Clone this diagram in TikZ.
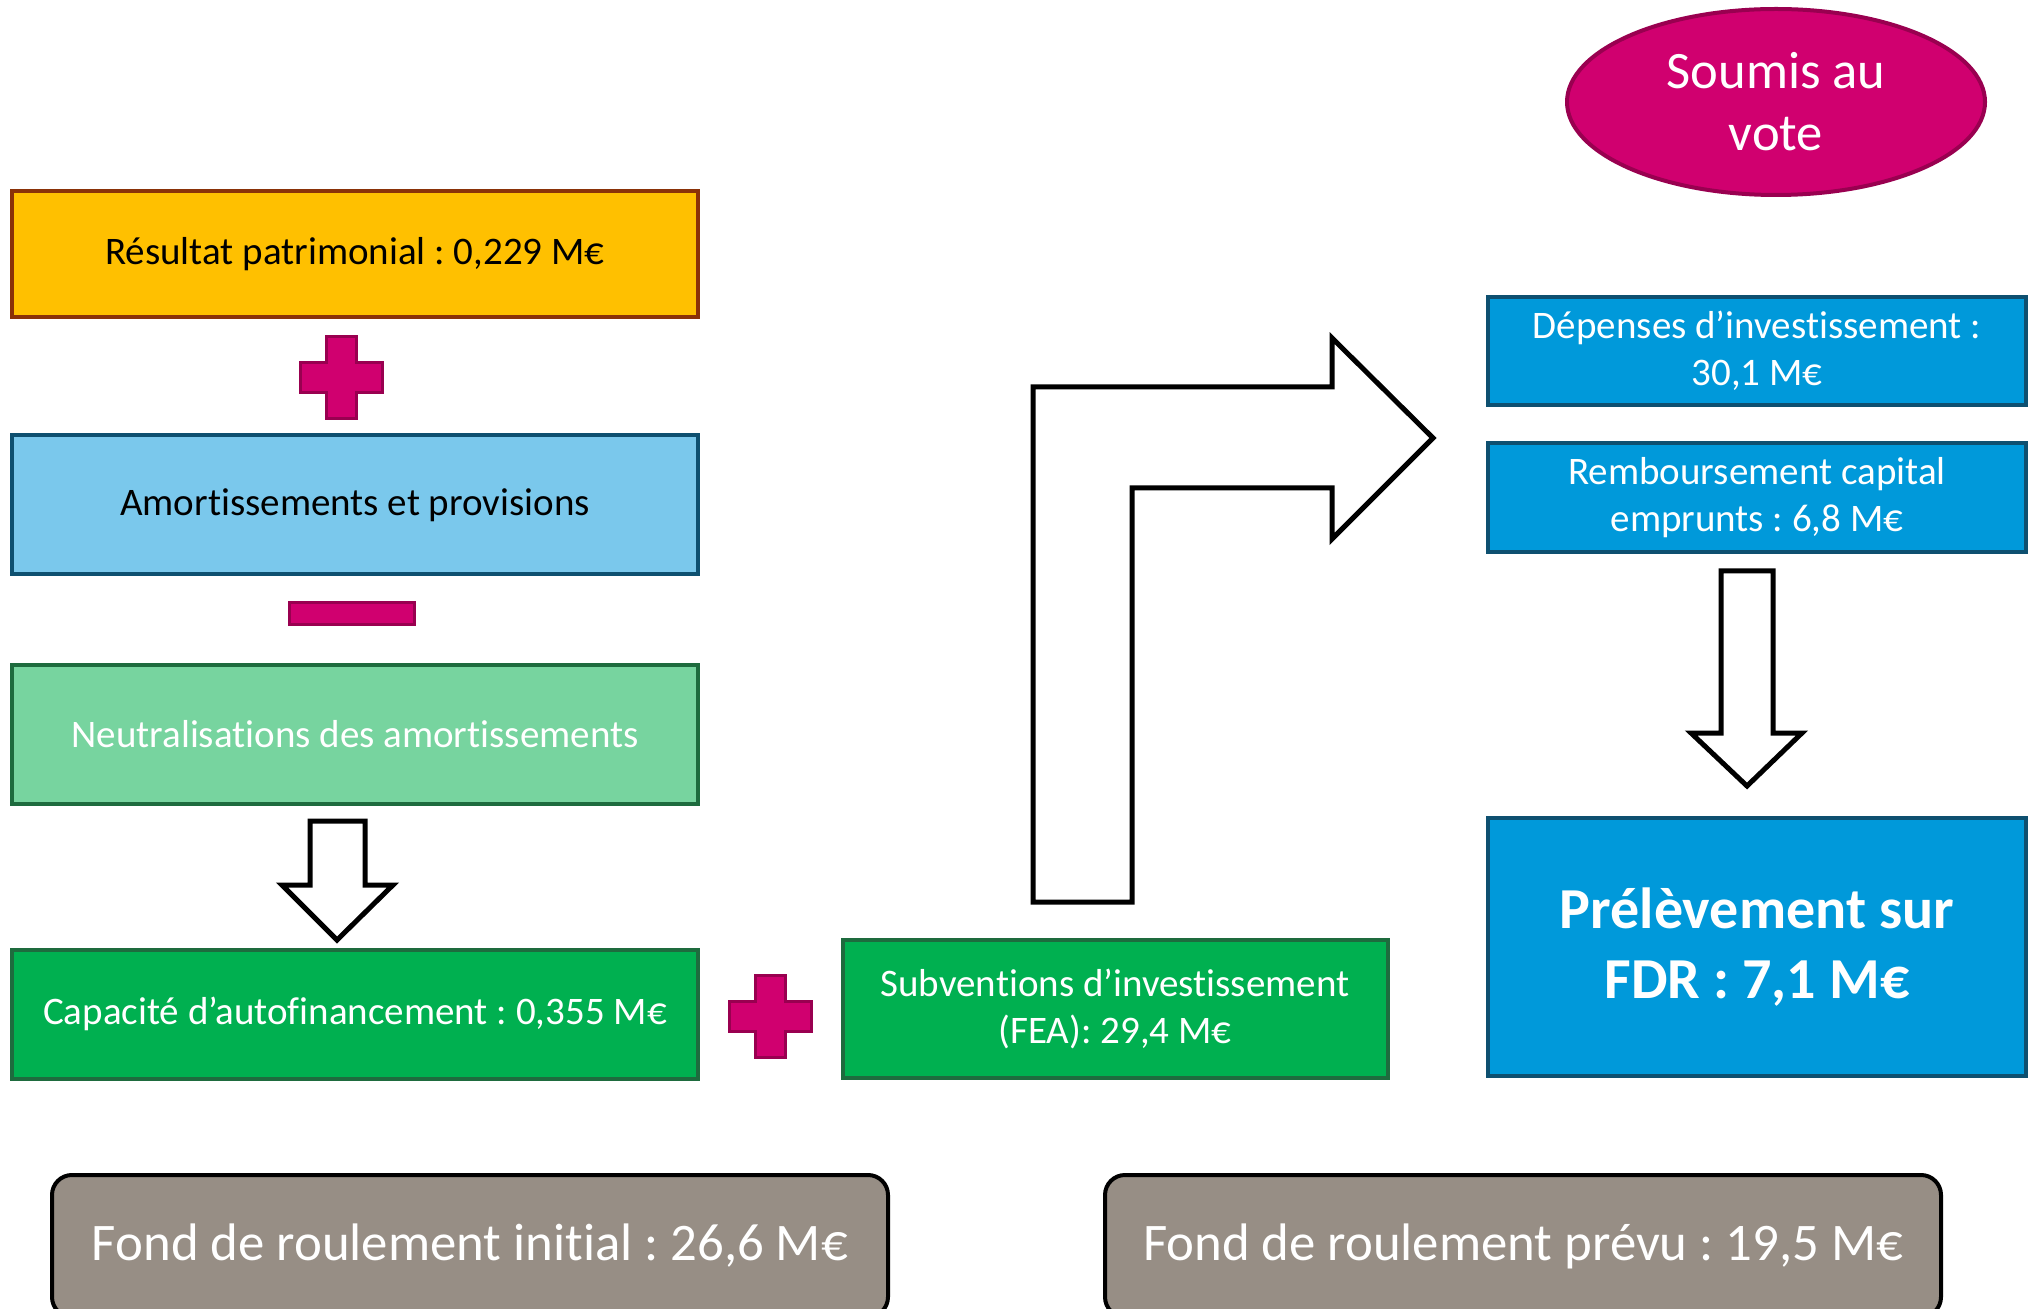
\documentclass[tikz,border=0pt]{standalone}
\usepackage{fontspec}
\setmainfont{Carlito}[Ligatures=NoCommon]
\frenchspacing
\usetikzlibrary{shapes.geometric}

\definecolor{orangebox}{HTML}{FFC000}
\definecolor{orangeedge}{HTML}{8A3208}
\definecolor{ciel}{HTML}{7AC8EC}
\definecolor{bleu}{HTML}{0099DA}
\definecolor{bleuedge}{HTML}{0E5070}
\definecolor{vertclair}{HTML}{77D49F}
\definecolor{vert}{HTML}{00B050}
\definecolor{vertedge}{HTML}{1E6B3E}
\definecolor{rose}{HTML}{D0006F}
\definecolor{roseedge}{HTML}{990050}
\definecolor{taupe}{HTML}{978E85}

\tikzset{plussign/.pic={
  \draw[signe] (-41,-15) -- (-15,-15) -- (-15,-41) -- (15,-41) -- (15,-15) -- (41,-15)
    -- (41,15) -- (15,15) -- (15,41) -- (-15,41) -- (-15,15) -- (-41,15) -- cycle;}}

\begin{document}
\begin{tikzpicture}[x=0.5pt, y=-0.5pt,
    box/.style={draw, rectangle, line width=2pt, align=center, inner sep=0pt,
      text=white, font=\fontsize{19.5}{23.5}\selectfont},
    fond/.style={draw=black, rectangle, rounded corners=10pt, line width=2pt, fill=taupe,
      text=white, minimum width=418pt, minimum height=71pt, inner sep=0pt,
      font=\fontsize{26.4}{31}\selectfont},
    signe/.style={draw=roseedge, fill=rose, line width=1.5pt},
    fleche/.style={draw=black, fill=white, line width=2.5pt, line join=miter}]

  \useasboundingbox (0,0) rectangle (2033,1309);

  \path (355,254) node[box, fill=orangebox, draw=orangeedge, text=black,
          minimum width=343pt, minimum height=63pt] (res) {Résultat patrimonial : 0,229 M€}
    (355,505) node[box, fill=ciel, draw=bleuedge, text=black,
          minimum width=343pt, minimum height=69.5pt] (amort) {Amortissements et provisions}
    (355,734) node[box, fill=vertclair, draw=vertedge,
          minimum width=343pt, minimum height=69.5pt] (neutr) {Neutralisations des amortissements}
    (355,1014) node[box, fill=vert, draw=vertedge,
          minimum width=343pt, minimum height=64.5pt] (caf) {Capacité d’autofinancement : 0,355 M€}
    (1115,1009) node[box, fill=vert, draw=vertedge,
          minimum width=272.5pt, minimum height=69pt] (subv) {Subventions d’investissement\\(FEA): 29,4 M€}
    (1776,102) node[ellipse, draw=roseedge, fill=rose, line width=2pt, text=white, align=center,
          minimum width=209pt, minimum height=93pt, inner sep=0pt,
          font=\fontsize{26.3}{31}\selectfont] (vote) {Soumis au\\vote}
    (1757,351) node[box, fill=bleu, draw=bleuedge,
          minimum width=269pt, minimum height=54pt] (dep) {Dépenses d’investissement :\\30,1 M€}
    (1757,498) node[box, fill=bleu, draw=bleuedge,
          minimum width=269pt, minimum height=54.5pt] (remb) {Remboursement capital\\emprunts : 6,8 M€}
    (1757,947) node[box, fill=bleu, draw=bleuedge, minimum width=269pt, minimum height=129pt,
          font=\bfseries\fontsize{29}{35}\selectfont] (prel) {Prélèvement sur\\FDR : 7,1 M€}
    (470,1246) node[fond] (fri) {Fond de roulement initial : 26,6 M€}
    (1523,1246) node[fond] (frp) {Fond de roulement prévu : 19,5 M€};

  \pic at (341,378) {plussign};
  \pic at (770,1016) {plussign};
  \draw[signe] (289,603) rectangle (414,625);

  \draw[fleche] (310,821) -- (365,821) -- (365,885) -- (393,885) -- (337,940)
    -- (282,885) -- (310,885) -- cycle;
  \draw[fleche] (1721,571) -- (1773,571) -- (1773,733) -- (1802,733) -- (1747,786)
    -- (1691,733) -- (1721,733) -- cycle;
  \draw[fleche] (1033,902) -- (1033,387) -- (1332,387) -- (1332,338) -- (1433,438)
    -- (1332,539) -- (1332,488) -- (1132,488) -- (1132,902) -- cycle;
\end{tikzpicture}
\end{document}
